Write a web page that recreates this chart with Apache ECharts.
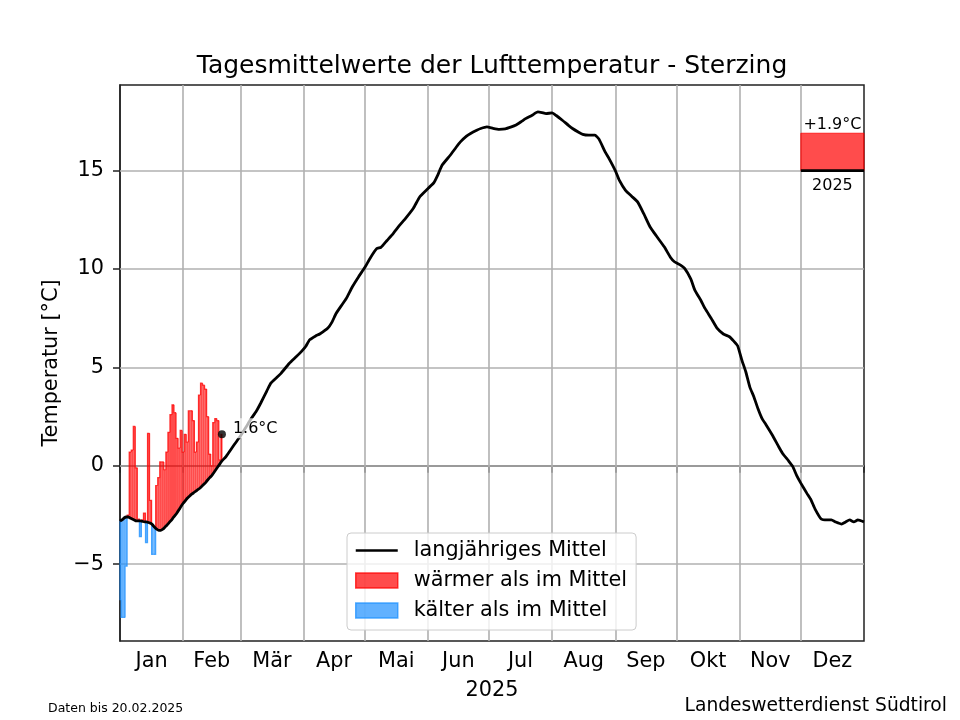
<!DOCTYPE html>
<html><head><meta charset="utf-8">
<script src="https://cdn.jsdelivr.net/npm/echarts@6/dist/echarts.min.js"></script>
<style>html,body{margin:0;padding:0;background:#fff}#c{width:960px;height:720px}</style>
</head><body><div id="c"></div>
<script>
// ---------- data ----------
const monthNames = ['Jan','Feb','Mär','Apr','Mai','Jun','Jul','Aug','Sep','Okt','Nov','Dez'];
const monthStarts = [0,31,59,90,120,151,181,212,243,273,304,334,365];
const monthMids = [15.5,45,74.5,105,135.5,166,196.5,227.5,258,288.5,319,349.5];
const yTicks = [-5,0,5,10,15];

// long-term daily mean (day of year -> °C)
const meanDays = [0,1,2,3,4,5,6,7,8,9,10,11,12,13,14,15,16,17,18,19,20,21,22,23,24,25,26,27,28,29,30,
  31,32,33,34,35,36,37,38,39,40,41,42,43,44,45,46,47,48,49,50,
  52,56,59,62,64,67,69,72,74,77,79,83,86,88,91,93,96,98,102,104,106,109,111,114,117,120,123,126,128,131,134,137,140,
  144,147,151,154,156,158,162,165,167,170,172,175,177,180,183,186,189,192,194,197,199,202,205,207,209,212,214,217,
  220,222,225,227,230,233,235,238,240,243,245,248,251,254,257,260,263,267,270,272,275,277,280,282,285,287,290,293,
  296,299,301,303,305,307,309,311,313,315,317,320,323,325,328,330,332,334,337,339,341,344,347,349,351,354,356,358,360,362,365];
const meanVals = [-2.8,-2.75,-2.65,-2.6,-2.6,-2.65,-2.7,-2.75,-2.8,-2.8,-2.8,-2.82,-2.85,-2.85,-2.88,-2.92,-3.0,-3.12,-3.22,-3.28,-3.28,
  -3.22,-3.12,-3.02,-2.9,-2.78,-2.65,-2.52,-2.38,-2.22,-2.05,
  -1.9,-1.78,-1.65,-1.55,-1.45,-1.38,-1.3,-1.22,-1.15,-1.05,-0.95,-0.85,-0.72,-0.6,-0.5,-0.35,-0.2,-0.05,0.1,0.25,
  0.47,1.07,1.5,2.0,2.34,2.8,3.18,3.8,4.2,4.5,4.7,5.2,5.5,5.7,6.05,6.4,6.6,6.7,7.0,7.3,7.74,8.2,8.5,9.1,9.6,10.06,10.6,11.04,11.1,11.45,11.8,12.2,12.56,
  13.1,13.66,14.08,14.39,14.8,15.27,15.78,16.2,16.46,16.75,16.89,17.05,17.14,17.22,17.15,17.1,17.12,17.22,17.3,17.5,17.64,17.8,17.98,17.95,17.9,17.93,17.8,17.56,
  17.3,17.14,16.95,16.84,16.8,16.8,16.6,15.95,15.6,15.0,14.5,14.0,13.7,13.4,12.8,12.15,11.7,11.13,10.6,10.37,10.2,10.03,9.5,8.93,8.4,8.0,7.5,6.98,
  6.7,6.56,6.35,6.1,5.4,4.78,4.0,3.5,2.9,2.4,2.08,1.57,1.0,0.64,0.25,-0.03,-0.5,-0.88,-1.4,-1.73,-2.2,-2.7,-2.75,-2.75,-2.85,-2.96,-2.85,-2.75,-2.85,-2.75,-2.85];

// observed daily mean 2025 (1 Jan .. 20 Feb)
const obsDays = [0,1,2,3,4,5,6,7,8,9,10,11,12,13,14,15,16,17,18,19,20,21,22,23,24,25,26,27,28,29,30,
  31,32,33,34,35,36,37,38,39,40,41,42,43,44,45,46,47,48,49,50];
const obsVals = [-6.8,-7.7,-7.7,-5.1,-2.5,0.7,0.8,2.0,-0.1,-2.7,-3.6,-2.75,-2.4,-3.9,1.65,-1.75,-4.5,-4.5,-1.0,-0.6,0.2,
  0.2,-0.2,0.7,1.7,2.6,3.1,2.7,1.4,0.9,1.8,
  0.7,1.6,1.2,2.8,2.8,2.3,0.7,1.2,3.6,4.2,4.1,3.9,2.5,0.6,0.0,2.2,2.4,2.3,0.3,1.6];

const lastLabel = '1.6°C';
const yearLabel = '2025';
const yearAnomaly = 1.9;
const anomalyBase = 15;
const anomalyFrom = 334, anomalyTo = 365;

// ---------- chart ----------
const FONT = 'DejaVu Sans';
const meanAt = d => meanVals[meanDays.indexOf(d)];
const WARM_FILL = 'rgba(255,0,0,0.7)', WARM_EDGE = 'rgba(255,0,0,0.75)';
const COLD_FILL = 'rgba(30,144,255,0.7)', COLD_EDGE = 'rgba(30,144,255,0.75)';
const firstDay = obsDays[0], lastDay = obsDays[obsDays.length - 1];
const LINE_ICON = 'path://M0,0 M42,15 M0,6.3 L42,6.3 L42,8.7 L0,8.7 Z';

function barRender(warm) {
  const fill = warm ? WARM_FILL : COLD_FILL;
  const edge = warm ? WARM_EDGE : COLD_EDGE;
  const sameSign = i => i >= 0 && i < obsDays.length && ((obsVals[i] > meanAt(obsDays[i])) === warm);
  return function (params, api) {
    const d = api.value(0), m = api.value(1), o = api.value(2);
    const i = obsDays.indexOf(d);
    const x0 = Math.max(d - 0.5, firstDay), x1 = Math.min(d + 0.5, lastDay);
    const a = api.coord([x0, Math.max(m, o)]);
    const b = api.coord([x1, Math.min(m, o)]);
    const prevEnd = sameSign(i - 1) ? obsVals[i - 1] : m;
    const pts = [api.coord([x0, prevEnd]), api.coord([x0, o]), api.coord([x1, o])];
    if (!sameSign(i + 1)) pts.push(api.coord([x1, m]));
    return {
      type: 'group',
      children: [
        { type: 'rect', shape: { x: a[0], y: a[1], width: b[0] - a[0], height: b[1] - a[1] },
          style: { fill: fill } },
        { type: 'polyline', shape: { points: pts }, style: { stroke: edge, lineWidth: 1.2, fill: null } }
      ]
    };
  };
}

const rows = obsDays.map((d, i) => [d, meanAt(d), obsVals[i]]);
const warmRows = rows.filter(r => r[2] > r[1]);
const coldRows = rows.filter(r => r[2] < r[1]);

const chart = echarts.init(document.getElementById('c'), null, { renderer: 'canvas' });
chart.setOption({
  animation: false,
  backgroundColor: '#fff',
  textStyle: { fontFamily: FONT },
  grid: { left: 120, right: 96, top: 85, bottom: 79, show: true, borderColor: '#222', borderWidth: 1.5, backgroundColor: 'transparent' },
  xAxis: {
    type: 'value', min: 0, max: 365,
    name: yearLabel, nameLocation: 'middle', nameGap: 39,
    nameTextStyle: { fontFamily: FONT, fontSize: 20.8, color: '#000' },
    axisLine: { show: true, lineStyle: { color: '#222', width: 1.5 } },
    axisTick: { show: true, inside: false, length: 7, lineStyle: { color: '#222', width: 1.5 }, customValues: monthStarts },
    axisLabel: { show: true, margin: 10, fontFamily: FONT, fontSize: 20.8, color: '#000', customValues: monthMids,
      formatter: v => { let k = 0, best = 1e9; monthMids.forEach((m, j) => { if (Math.abs(m - v) < best) { best = Math.abs(m - v); k = j; } }); return monthNames[k]; } },
    splitLine: { show: false }
  },
  yAxis: {
    type: 'value', min: -8.9, max: 19.35,
    name: 'Temperatur [°C]', nameLocation: 'middle', nameGap: 50,
    nameTextStyle: { fontFamily: FONT, fontSize: 20.8, color: '#000' },
    axisLine: { show: true, lineStyle: { color: '#222', width: 1.5 } },
    axisTick: { show: true, inside: false, length: 7, lineStyle: { color: '#222', width: 1.5 }, customValues: yTicks },
    axisLabel: { show: true, margin: 16, fontFamily: FONT, fontSize: 20.8, color: '#000', customValues: yTicks,
      formatter: v => (v < 0 ? '\u2212' + Math.abs(v) : String(v)) },
    splitLine: { show: false }
  },
  legend: {
    orient: 'vertical', left: 347, top: 533,
    padding: [7, 9, 9, 8], itemGap: 9, itemWidth: 42, itemHeight: 15,
    backgroundColor: 'rgba(255,255,255,0.8)', borderColor: '#cccccc', borderWidth: 1, borderRadius: 4,
    textStyle: { fontFamily: FONT, fontSize: 20.8, color: '#000', lineHeight: 21, padding: [0, 0, 0, 11] },
    data: [
      { name: 'langjähriges Mittel', icon: LINE_ICON, itemStyle: { color: '#000', borderWidth: 0 } },
      { name: 'wärmer als im Mittel', icon: 'rect', itemStyle: { color: WARM_FILL, borderColor: WARM_EDGE, borderWidth: 1.5 } },
      { name: 'kälter als im Mittel', icon: 'rect', itemStyle: { color: COLD_FILL, borderColor: COLD_EDGE, borderWidth: 1.5 } }
    ]
  },
  graphic: [
    { type: 'text', x: 492, y: 66, z: 10,
      style: { text: 'Tagesmittelwerte der Lufttemperatur - Sterzing', font: '25px "DejaVu Sans"', fill: '#000', textAlign: 'center', textVerticalAlign: 'middle' } },
    { type: 'text', x: 48, y: 709, z: 10,
      style: { text: 'Daten bis 20.02.2025', font: '12.5px "DejaVu Sans"', fill: '#000', textAlign: 'left', textVerticalAlign: 'middle' } },
    { type: 'text', x: 947, y: 706, z: 10,
      style: { text: 'Landeswetterdienst Südtirol', font: '18.7px "DejaVu Sans"', fill: '#000', textAlign: 'right', textVerticalAlign: 'middle' } }
  ],
  series: [
    { name: 'grid', type: 'line', data: [], silent: true, z: 1,
      markLine: { silent: true, z: 1, symbol: ['none', 'none'], label: { show: false }, animation: false,
        lineStyle: { color: '#b0b0b0', width: 1.6, type: 'solid' },
        data: monthStarts.slice(1, -1).map(v => ({ xAxis: v })).concat(yTicks.map(v => ({ yAxis: v }))) } },
    { name: 'wärmer als im Mittel', type: 'custom', z: 2, renderItem: barRender(true), data: warmRows,
      itemStyle: { color: WARM_FILL, borderColor: WARM_EDGE }, encode: { x: 0, y: [1, 2] } },
    { name: 'kälter als im Mittel', type: 'custom', z: 2, renderItem: barRender(false), data: coldRows,
      itemStyle: { color: COLD_FILL, borderColor: COLD_EDGE }, encode: { x: 0, y: [1, 2] } },
    { name: 'langjähriges Mittel', type: 'line', z: 3, symbol: 'none', showSymbol: false, smooth: 0.15,
      lineStyle: { color: '#000', width: 2.8 }, itemStyle: { color: '#000' },
      data: meanDays.map((d, i) => [d, meanVals[i]]) },
    { name: 'last', type: 'scatter', z: 4, symbolSize: 8, itemStyle: { color: '#000' },
      data: [[lastDay, obsVals[obsVals.length - 1]]],
      label: { show: true, position: 'right', distance: 5, offset: [0, -6], formatter: lastLabel, fontFamily: FONT, fontSize: 16,
        color: '#000', opacity: 1, textBorderWidth: 0,
        backgroundColor: 'rgba(255,255,255,0.7)', padding: [2, 2] } },
    { name: 'anomaly', type: 'custom', z: 4, clip: false,
      data: [[anomalyFrom, anomalyTo, anomalyBase, yearAnomaly]],
      encode: { x: [0, 1], y: 2 },
      renderItem: function (params, api) {
        const f = api.value(0), t = api.value(1), base = api.value(2), an = api.value(3);
        const p0 = api.coord([f, base + an]);
        const p1 = api.coord([t, base]);
        const cx = (p0[0] + p1[0]) / 2;
        return { type: 'group', children: [
          { type: 'rect', shape: { x: p0[0], y: p0[1], width: p1[0] - p0[0], height: p1[1] - p0[1] },
            style: { fill: WARM_FILL, stroke: WARM_EDGE, lineWidth: 1 } },
          { type: 'line', shape: { x1: p0[0], y1: p1[1], x2: p1[0], y2: p1[1] }, style: { stroke: '#000', lineWidth: 2.6 } },
          { type: 'text', x: cx, y: p0[1], style: { text: (an >= 0 ? '+' : '\u2212') + Math.abs(an).toFixed(1) + '°C',
              font: '16px "DejaVu Sans"', fill: '#000', textAlign: 'center', textVerticalAlign: 'bottom' } },
          { type: 'text', x: cx, y: p1[1] + 7, style: { text: yearLabel,
              font: '16px "DejaVu Sans"', fill: '#000', textAlign: 'center', textVerticalAlign: 'top' } }
        ] };
      } }
  ]
});
</script>
</body></html>
